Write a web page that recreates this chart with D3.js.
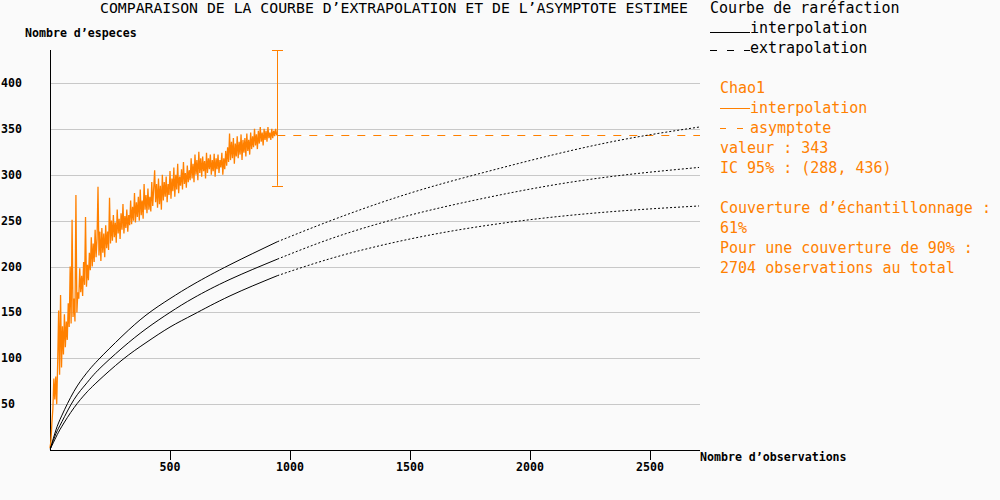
<!DOCTYPE html>
<html><head><meta charset="utf-8">
<script src="https://cdn.jsdelivr.net/npm/d3@7"></script>
<style>
html,body{margin:0;padding:0;background:#fafafa;}
svg{display:block;}
text{font-family:"DejaVu Sans Mono",monospace;}
</style></head>
<body>
<script>
// ---- data ----
const xTicks = [500, 1000, 1500, 2000, 2500];
const yTicks = [50, 100, 150, 200, 250, 300, 350, 400];
const nObserved = 947;
const chaoValue = 343;
const chaoCI = [288, 436];
const xMax = 2708;

const curveX  = [1, 25, 50, 100, 150, 200, 300, 400, 500, 600, 750, 947, 1200, 1500, 1800, 2100, 2400, 2704];
const upper   = [1, 22, 38, 64, 83, 98, 124, 147, 165, 181, 202, 227, 253, 280, 302, 322, 339, 352];
const middle  = [1, 18, 31, 55, 72, 87, 111, 132, 150, 166, 186, 208, 233, 256, 274, 289, 300, 308];
const lower   = [1, 14, 26, 46, 62, 75, 98, 117, 134, 148, 168, 190, 211, 230, 244, 254, 261, 266];

// Chao1 estimate along observations (one value every 4 observations, last at 947)
const chaoStep = 4;
const chaoSeries = [
2,10,30,45,78,55,80,50,95,152,82,169,90,135,104,148,112,140,120,160,
134,200,138,251,145,165,140,278,150,172,165,198,172,190,168,205,180,254,178,202,
185,215,196,232,200,225,205,240,210,230,287,212,238,206,242,215,236,210,245,220,
238,218,275,225,250,228,256,232,248,226,262,236,252,230,258,240,268,236,255,242,
262,238,256,245,272,246,265,250,280,248,270,254,276,250,284,256,272,252,290,262,
278,258,285,262,276,260,292,266,285,305,270,290,264,296,268,288,262,300,272,292,
276,298,270,290,278,304,274,296,282,308,276,300,284,312,280,298,288,306,284,314,
290,302,286,310,292,305,294,318,296,312,292,322,300,316,294,325,302,318,298,320,
304,315,296,324,302,318,306,322,300,316,304,323,298,318,306,322,302,316,308,324,
300,318,306,326,310,330,314,345,316,336,318,340,312,334,320,342,318,336,322,344,
316,338,324,340,320,345,326,338,322,346,328,342,330,350,332,344,328,348,334,352,
336,346,332,350,338,348,336,352,340,346,338,350,340,348,342,350,344,343];

const titleText = "COMPARAISON DE LA COURBE D\u2019EXTRAPOLATION ET DE L\u2019ASYMPTOTE ESTIMEE";
const yLabel = "Nombre d\u2019especes";
const xLabel = "Nombre d\u2019observations";
const legendBlack = ["Courbe de rar\u00e9faction", "interpolation", "extrapolation"];
const legendOrange = ["Chao1", "interpolation", "asymptote", "valeur : 343", "IC 95% : (288, 436)",
  "Couverture d\u2019\u00e9chantillonnage :", "61%", "Pour une couverture de 90% :", "2704 observations au total"];

// ---- drawing ----
const W = 1000, H = 500;
const orange = "#ff8000";
const svg = d3.select("body").append("svg").attr("width", W).attr("height", H);
svg.append("rect").attr("width", W).attr("height", H).attr("fill", "#fafafa");

const x = d3.scaleLinear().domain([0, xMax]).range([50, 700]);
const y = d3.scaleLinear().domain([0, chaoCI[1]]).range([450, 50]);

// grid
svg.append("g").selectAll("line").data(yTicks).join("line")
  .attr("x1", 50).attr("x2", 700)
  .attr("y1", d => Math.round(y(d)) + 0.5).attr("y2", d => Math.round(y(d)) + 0.5)
  .attr("stroke", "#c8c8c8").attr("stroke-width", 1);

// y tick labels
svg.append("g").selectAll("text").data(yTicks).join("text")
  .attr("x", 1).attr("y", d => y(d) + 4)
  .attr("font-size", "11.6px").attr("font-weight", "bold").attr("fill", "#000")
  .text(d => d);

// axes lines
svg.append("line").attr("x1", 50.5).attr("x2", 50.5).attr("y1", 50).attr("y2", 450).attr("stroke", "#000");
svg.append("line").attr("x1", 50).attr("x2", 700).attr("y1", 450.5).attr("y2", 450.5).attr("stroke", "#000");

// x ticks
const xt = svg.append("g").selectAll("g").data(xTicks).join("g");
xt.append("line").attr("x1", d => Math.round(x(d)) + 0.5).attr("x2", d => Math.round(x(d)) + 0.5)
  .attr("y1", 450).attr("y2", 460).attr("stroke", "#000");
xt.append("text").attr("x", d => x(d)).attr("y", 471).attr("text-anchor", "middle")
  .attr("font-size", "11.6px").attr("font-weight", "bold").text(d => d);

// axis labels
svg.append("text").attr("x", 25).attr("y", 37).attr("font-size", "11.6px").attr("font-weight", "bold").text(yLabel);
svg.append("text").attr("x", 700).attr("y", 461).attr("font-size", "11.6px").attr("font-weight", "bold").text(xLabel);

// title
svg.append("text").attr("x", 100).attr("y", 13).attr("font-size", "14.8px").text(titleText);

// Chao1 noisy curve
const chaoPts = chaoSeries.map((v, i) => [Math.min(i * chaoStep, nObserved), v]);
svg.append("path").datum(chaoPts)
  .attr("d", d3.line().x(d => x(d[0])).y(d => y(d[1])))
  .attr("fill", "none").attr("stroke", orange).attr("stroke-width", 1.3);

// asymptote
const yA = Math.round(y(chaoValue)) + 0.5;
svg.append("line").attr("x1", x(nObserved)).attr("x2", 700).attr("y1", yA).attr("y2", yA)
  .attr("stroke", "#ffffff").attr("stroke-width", 1);
svg.append("line").attr("x1", x(nObserved)).attr("x2", 700).attr("y1", yA).attr("y2", yA)
  .attr("stroke", orange).attr("stroke-width", 1).attr("stroke-dasharray", "8,8");

// error bar
const xe = Math.round(x(nObserved)) + 0.5;
svg.append("line").attr("x1", xe).attr("x2", xe).attr("y1", y(chaoCI[0])).attr("y2", y(chaoCI[1])).attr("stroke", orange);
[chaoCI[0], chaoCI[1]].forEach(v => {
  const yy = Math.round(y(v)) + 0.5;
  svg.append("line").attr("x1", xe - 5.5).attr("x2", xe + 5.5).attr("y1", yy).attr("y2", yy).attr("stroke", orange);
});

// rarefaction curves
const line = d3.line().x(d => x(d[0])).y(d => y(d[1])).curve(d3.curveNatural);
[upper, middle, lower].forEach(series => {
  const pts = curveX.map((c, i) => [c, series[i]]);
  const interp = pts.filter(p => p[0] <= nObserved);
  const extrap = pts.filter(p => p[0] >= nObserved);
  svg.append("path").datum(interp).attr("d", line).attr("fill", "none").attr("stroke", "#000").attr("stroke-width", 1);
  svg.append("path").datum(extrap).attr("d", line).attr("fill", "none").attr("stroke", "#000").attr("stroke-width", 1)
    .attr("stroke-dasharray", "2,2");
});

// legend black
const fs = "15px";
svg.append("text").attr("x", 710).attr("y", 13).attr("font-size", fs).text(legendBlack[0]);
svg.append("line").attr("x1", 710).attr("x2", 750).attr("y1", 32.5).attr("y2", 32.5).attr("stroke", "#000");
svg.append("text").attr("x", 750).attr("y", 33).attr("font-size", fs).text(legendBlack[1]);
svg.append("line").attr("x1", 710).attr("x2", 750).attr("y1", 50.5).attr("y2", 50.5).attr("stroke", "#000").attr("stroke-dasharray", "7,10");
svg.append("text").attr("x", 750).attr("y", 53).attr("font-size", fs).text(legendBlack[2]);

// legend orange
const og = svg.append("g").attr("fill", orange).attr("font-size", fs);
og.append("text").attr("x", 720).attr("y", 93).text(legendOrange[0]);
svg.append("line").attr("x1", 720).attr("x2", 750).attr("y1", 108.5).attr("y2", 108.5).attr("stroke", orange);
og.append("text").attr("x", 750).attr("y", 113).text(legendOrange[1]);
svg.append("line").attr("x1", 720).attr("x2", 750).attr("y1", 128.5).attr("y2", 128.5).attr("stroke", orange).attr("stroke-dasharray", "6,11");
og.append("text").attr("x", 750).attr("y", 133).text(legendOrange[2]);
og.append("text").attr("x", 720).attr("y", 153).text(legendOrange[3]);
og.append("text").attr("x", 720).attr("y", 173).text(legendOrange[4]);
og.append("text").attr("x", 720).attr("y", 213).text(legendOrange[5]);
og.append("text").attr("x", 720).attr("y", 233).text(legendOrange[6]);
og.append("text").attr("x", 720).attr("y", 253).text(legendOrange[7]);
og.append("text").attr("x", 720).attr("y", 273).text(legendOrange[8]);
</script>
</body></html>
